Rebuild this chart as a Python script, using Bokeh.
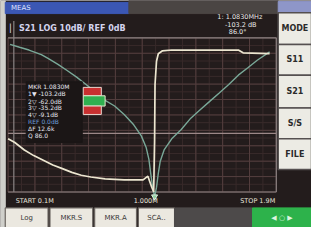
import numpy as np
from bokeh.plotting import figure
from bokeh.models import Range1d
from bokeh.core.properties import value
from bokeh.embed import file_html
from bokeh.resources import INLINE

# ---------------- sweep / scale settings ----------------
f_start, f_stop = 0.1, 1.9          # MHz
mag_top, mag_bottom = 0.0, -100.0   # dB  (10 dB/div)
ph_top, ph_bottom = 90.0, -90.0     # deg
n_div = 10

# ---------------- trace data ----------------
freq_mag = [0.113, 0.177, 0.240, 0.323, 0.368, 0.432, 0.496, 0.560, 0.623, 0.687,
            0.751, 0.815, 0.879, 0.943, 0.994, 1.026, 1.045, 1.057, 1.070, 1.083,
            1.096, 1.108, 1.121, 1.147, 1.198, 1.262, 1.326, 1.389, 1.453, 1.517,
            1.581, 1.645, 1.709, 1.772, 1.855]
mag_db = [-4.2, -6.1, -7.9, -10.9, -13.3, -17.0, -21.2, -25.5, -30.3, -35.2,
          -40.6, -44.2, -49.7, -56.4, -63.6, -70.9, -78.8, -87.9, -97.0, -103.0,
          -97.0, -87.9, -80.0, -72.7, -65.5, -59.4, -52.1, -46.7, -41.2, -35.8,
          -30.3, -24.2, -19.4, -14.5, -9.1]

freq_ph = [0.100, 0.145, 0.209, 0.272, 0.336, 0.400, 0.464, 0.528, 0.591, 0.655,
           0.751, 0.879, 1.006, 1.038, 1.064, 1.077, 1.083, 1.086, 1.096, 1.108,
           1.134, 1.198, 1.645, 1.677, 1.855]
phase_deg = [-27.8, -32.2, -40.9, -47.5, -52.9, -58.4, -62.7, -67.1, -70.4, -72.5,
             -74.7, -75.8, -75.8, -71.5, -84.5, -90.0, -30.0, 35.5, 62.7, 71.5,
             74.7, 75.8, 75.8, 72.5, 71.5]

ref_level_db = -62.0

marker_rows = ["MKR 1.0830M", "1\u25bc -103.2dB", "2\u25bd  -62.0dB", "3\u25bd  -35.2dB",
               "4\u25bd   -9.1dB", "REF  0.0dB", "\u0394F 12.6k", "Q   86.0"]
title_text = "\u258f S21  LOG  10dB/  REF 0dB"
info_rows = ["1: 1.0830MHz", "-103.2 dB", "86.0\u00b0"]
side_buttons = ["MODE", "S11", "S21", "S/S", "FILE"]
bottom_buttons = ["Log", "MKR.S", "MKR.A", "SCA.."]
start_label, center_label, stop_label = "START 0.1M", "1.000M", "STOP 1.9M"

# ---------------- screen layout (reference pixel space) ----------------
W, H = 327, 243
FL, FR, FT, FB = 8, 290, 40, 205   # graticule box

p = figure(width=311, height=227, x_range=Range1d(0, W), y_range=Range1d(H, 0),
           x_axis_location=None, y_axis_location=None, min_border=0,
           toolbar_location=None, output_backend="svg",
           background_fill_color="#231c1c", border_fill_color="#231c1c",
           outline_line_color=None)
p.grid.visible = False

fspan = (f_stop - f_start) / (FR - FL)
p.extra_x_ranges = {"freq": Range1d(f_start - FL * fspan, f_stop + (W - FR) * fspan)}
mspan = (mag_top - mag_bottom) / (FB - FT)
p.extra_y_ranges = {
    "mag": Range1d(mag_bottom - (H - FB) * mspan, mag_top + FT * mspan),
}
pspan = (ph_top - ph_bottom) / (FB - FT)
p.extra_y_ranges["phase"] = Range1d(ph_bottom - (H - FB) * pspan, ph_top + FT * pspan)

FONT = value("DejaVu Sans")

# ---- chrome: bezel, top bar ----
p.quad(left=[0], right=[5], top=[0], bottom=[H], color="#cfcfca")
p.quad(left=[5], right=[135], top=[2], bottom=[14], color="#3b57b4")
p.quad(left=[135], right=[292], top=[0], bottom=[14], color="#4a4543")
p.quad(left=[292], right=[W], top=[1], bottom=[13], color="#8e96c8")
p.text(x=[11], y=[8], text=["MEAS"], text_font=FONT, text_font_size="7px",
       text_color="#dfe4ff", text_baseline="middle")

# ---- grid (minor + major) ----
mx = np.linspace(f_start, f_stop, 2 * n_div + 1)
my = np.linspace(mag_bottom, mag_top, 2 * n_div + 1)
p.segment(x0=mx, y0=mag_bottom, x1=mx, y1=mag_top, x_range_name="freq",
          y_range_name="mag", line_color="#382a2a", line_width=1)
p.segment(x0=f_start, y0=my, x1=f_stop, y1=my, x_range_name="freq",
          y_range_name="mag", line_color="#382a2a", line_width=1)
gx = np.linspace(f_start, f_stop, n_div + 1)
gy = np.linspace(mag_bottom, mag_top, n_div + 1)
p.segment(x0=gx, y0=mag_bottom, x1=gx, y1=mag_top, x_range_name="freq",
          y_range_name="mag", line_color="#533e3e", line_width=1)
p.segment(x0=f_start, y0=gy, x1=f_stop, y1=gy, x_range_name="freq",
          y_range_name="mag", line_color="#533e3e", line_width=1)
# frame border
p.segment(x0=[f_start, f_stop, f_start], y0=[mag_top, mag_top, mag_bottom],
          x1=[f_stop, f_stop, f_stop], y1=[mag_top, mag_bottom, mag_bottom],
          x_range_name="freq", y_range_name="mag", line_color="#8a8080", line_width=1.2)
# reference line
p.segment(x0=f_start, y0=ref_level_db, x1=f_stop, y1=ref_level_db, x_range_name="freq",
          y_range_name="mag", line_color="#9c8888", line_width=1.2)
# left marker line
p.segment(x0=[f_start + 6 * fspan], y0=[mag_top + 18 * mspan], x1=[f_start + 6 * fspan],
          y1=[mag_bottom], x_range_name="freq", y_range_name="mag",
          line_color="#8a8484", line_width=1.2)

# ---- traces ----
p.line(freq_mag, mag_db, x_range_name="freq", y_range_name="mag",
       line_color="#79a898", line_width=1.4)
p.line(freq_ph, phase_deg, x_range_name="freq", y_range_name="phase",
       line_color="#ece6d0", line_width=1.7)

# notch marker
i_min = int(np.argmin(mag_db))
p.scatter([freq_mag[i_min]], [mag_db[i_min]], x_range_name="freq", y_range_name="mag",
          marker="inverted_triangle", size=6, fill_color="#8fd0a0", line_color="#e0f0e0")

# ---- marker table ----
p.quad(left=[27], right=[86], top=[87], bottom=[152], color="#1b1616")
row_y = [92, 100, 108, 115, 122, 130, 137, 145]
row_col = ["#e6e6f0"] * 5 + ["#6f9fd8"] + ["#e6e6f0"] * 2
p.text(x=[29] * len(marker_rows), y=row_y, text=marker_rows, text_font=FONT,
       text_font_size="6px", text_color=row_col, text_baseline="middle")
p.quad(left=[87], right=[106], top=[93], bottom=[102], color="#c83030", line_color="#e8d8d0")
p.quad(left=[87], right=[110], top=[102], bottom=[113], color="#30b050", line_color="#e8e8d0")
p.quad(left=[87], right=[106], top=[113], bottom=[122], color="#c83030", line_color="#e8d8d0")

# ---- title & info text ----
p.text(x=[10], y=[30], text=[title_text], text_font=FONT, text_font_size="8px",
       text_font_style="bold", text_color="#d4d4ee", text_baseline="middle")
p.text(x=[228, 236, 240], y=[18, 26, 34], text=info_rows, text_font=FONT,
       text_font_size="6.5px", text_color="#e8e8e8", text_baseline="middle")

# ---- bottom scale labels ----
p.text(x=[16, 140, 252], y=[215, 215, 215], text=[start_label, center_label, stop_label],
       text_font=FONT, text_font_size="6.5px", text_color="#e8e4dc", text_baseline="middle")

# ---- side buttons ----
sb_top = [13, 47, 80, 115, 148]
sb_bot = [47, 80, 115, 148, 181]
p.quad(left=[292] * 5, right=[W] * 5, top=sb_top, bottom=sb_bot,
       fill_color="#ecebe4", line_color="#555050", line_width=1.5)
p.text(x=[309.5] * 5, y=[(a + b) / 2 for a, b in zip(sb_top, sb_bot)], text=side_buttons,
       text_font=FONT, text_font_size="8px", text_font_style="bold", text_color="#2a2a2a",
       text_align="center", text_baseline="middle")

# ---- bottom buttons ----
bb_l = [5, 52, 99, 145]
bb_r = [50, 97, 143, 183]
p.quad(left=bb_l, right=bb_r, top=[222] * 4, bottom=[H] * 4,
       fill_color="#ebe8e0", line_color="#6a6460", line_width=1.2)
p.text(x=[(a + b) / 2 for a, b in zip(bb_l, bb_r)], y=[232.5] * 4, text=bottom_buttons,
       text_font=FONT, text_font_size="7px", text_color="#3a3a3a",
       text_align="center", text_baseline="middle")
p.quad(left=[183], right=[265], top=[222], bottom=[H], color="#4d4a4a")
p.quad(left=[265], right=[W], top=[222], bottom=[H], color="#2db24b")
p.text(x=[296], y=[232.5], text=["\u25c0 \u25cb \u25b6"], text_font=FONT,
       text_font_size="7px", text_color="#dff5e0", text_align="center",
       text_baseline="middle")

open("out.html", "w").write(file_html(p, INLINE))
